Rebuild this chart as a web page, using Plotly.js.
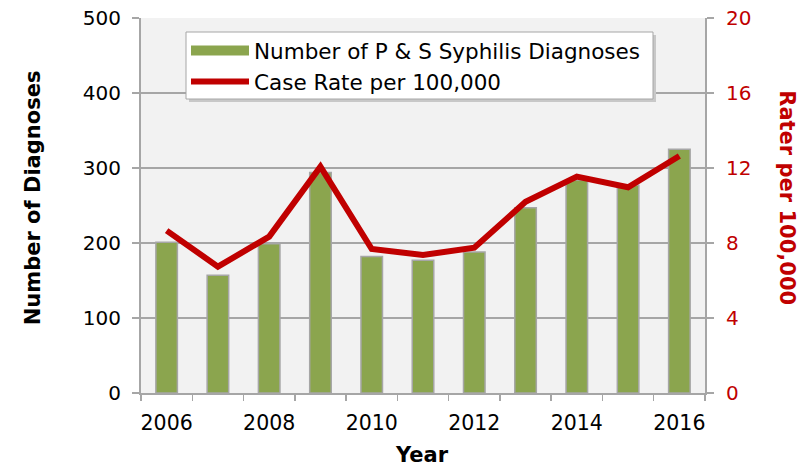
<!DOCTYPE html>
<html>
<head>
<meta charset="utf-8">
<script src="https://cdn.plot.ly/plotly-3.0.1.min.js"></script>
<style>html,body{margin:0;padding:0;background:#fff;}#chart{width:800px;height:467px;}</style>
</head>
<body>
<div id="chart"></div>
<script>
const years = ["2006","2007","2008","2009","2010","2011","2012","2013","2014","2015","2016"];
const tickLabels = ["2006","","2008","","2010","","2012","","2014","","2016"];
const diagnoses = [201, 157, 199, 294, 182, 177, 188, 247, 284, 277, 325];
const caseRate = [8.66, 6.74, 8.34, 12.07, 7.68, 7.36, 7.75, 10.2, 11.54, 10.97, 12.64];

const FONT = "DejaVu Sans, Verdana, sans-serif";
const GREY = "#a6a6a6";
const RED = "#c00000";
const GREEN = "#8ba54e";

const traces = [
  {
    type: "bar", x: years, y: diagnoses, name: "Number of P & S Syphilis Diagnoses",
    marker: {color: GREEN, line: {color: GREY, width: 1.5}},
    xaxis: "x", yaxis: "y", showlegend: false
  },
  {
    type: "scatter", mode: "lines", x: [null], y: [null], name: "Number of P & S Syphilis Diagnoses",
    line: {color: GREEN, width: 14}, xaxis: "x", yaxis: "y", showlegend: true
  },
  {
    type: "scatter", mode: "lines", x: years, y: caseRate, name: "Case Rate per 100,000",
    line: {color: RED, width: 6},
    xaxis: "x", yaxis: "y2"
  }
];

const px = v => (v - 141) / 564;
const py = v => (393 - v) / 375;

const layout = {
  width: 800, height: 467,
  margin: {l: 141, r: 95, t: 18, b: 74},
  paper_bgcolor: "#ffffff",
  plot_bgcolor: "#f2f2f2",
  font: {family: FONT, color: "#000", size: 20},
  bargap: 0.58,
  showlegend: true,
  legend: {
    x: px(186), y: py(30), xanchor: "left", yanchor: "top",
    bgcolor: "rgba(0,0,0,0)", borderwidth: 0,
    font: {family: FONT, size: 21.5, color: "#000"},
    itemwidth: 58, traceorder: "normal"
  },
  shapes: [
    {type: "rect", xref: "paper", yref: "paper", x0: px(189), x1: px(656), y0: py(102), y1: py(35),
     fillcolor: "#c8c8c8", line: {width: 0}, layer: "above"},
    {type: "rect", xref: "paper", yref: "paper", x0: px(186), x1: px(653), y0: py(99), y1: py(32),
     fillcolor: "#ffffff", line: {color: GREY, width: 1}, layer: "above"}
  ],
  xaxis: {
    type: "category",
    tickmode: "array", tickvals: years, ticktext: tickLabels, tickangle: 0,
    tickson: "boundaries", ticks: "outside", ticklen: 6, tickwidth: 1.5, tickcolor: GREY,
    showline: true, linecolor: GREY, linewidth: 2,
    showgrid: false, zeroline: false,
    tickfont: {family: FONT, size: 20.5, color: "#000"},
    ticklabelstandoff: 10
  },
  yaxis: {
    range: [0, 500], dtick: 100, tick0: 0,
    ticks: "outside", ticklen: 7, tickwidth: 1.5, tickcolor: GREY,
    showline: true, linecolor: GREY, linewidth: 2,
    showgrid: true, gridcolor: GREY, gridwidth: 1.5, zeroline: false,
    tickfont: {family: FONT, size: 20, color: "#000"},
    ticklabelstandoff: 7
  },
  yaxis2: {
    overlaying: "y", side: "right",
    range: [0, 20], dtick: 4, tick0: 0,
    ticks: "outside", ticklen: 7, tickwidth: 1.5, tickcolor: GREY,
    showline: true, linecolor: GREY, linewidth: 2,
    showgrid: false, zeroline: false,
    tickfont: {family: FONT, size: 20, color: RED},
    ticklabelstandoff: 8
  },
  annotations: [
    {text: "<b>Number of Diagnoses</b>", xref: "paper", yref: "paper", x: -0.191, y: 0.52,
     xanchor: "center", yanchor: "middle", textangle: -90, showarrow: false,
     font: {family: FONT, size: 21, color: "#000"}},
    {text: "<b>Rater per 100,000</b>", xref: "paper", yref: "paper", x: 1.145, y: 0.52,
     xanchor: "center", yanchor: "middle", textangle: 90, showarrow: false,
     font: {family: FONT, size: 21, color: RED}},
    {text: "<b>Year</b>", xref: "paper", yref: "paper", x: 0.498, y: -0.165,
     xanchor: "center", yanchor: "middle", showarrow: false,
     font: {family: FONT, size: 21, color: "#000"}}
  ]
};

Plotly.newPlot("chart", traces, layout, {displayModeBar: false, staticPlot: true});
</script>
</body>
</html>
